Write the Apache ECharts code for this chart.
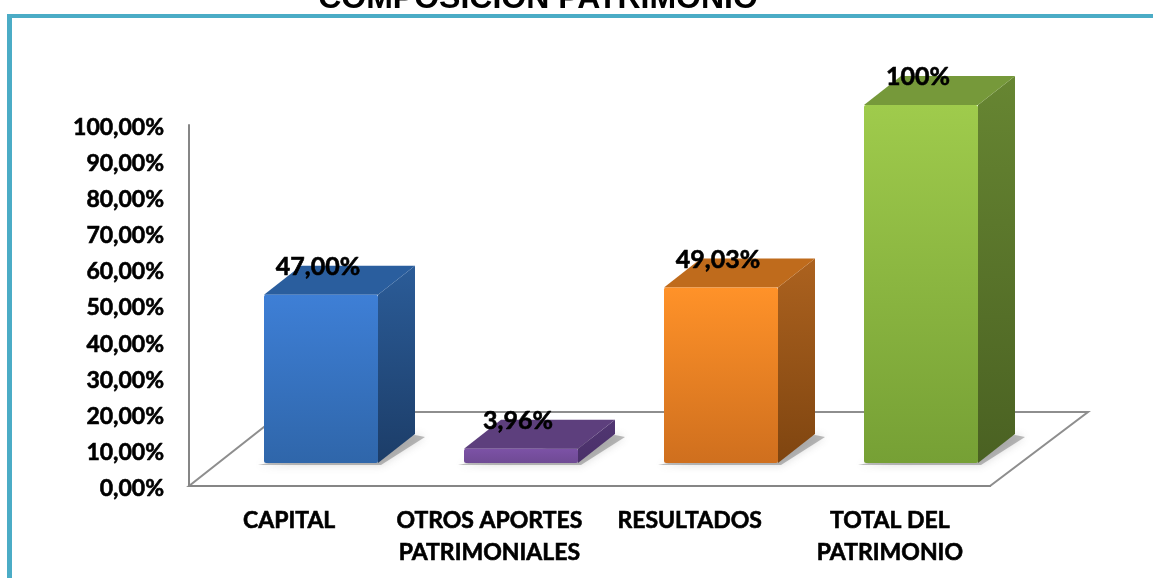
<!DOCTYPE html>
<html><head><meta charset="utf-8">
<style>html,body{margin:0;padding:0;background:#fff}#c{width:1153px;height:578px}</style>
<script src="https://cdn.jsdelivr.net/npm/echarts@6/dist/echarts.min.js"></script>
</head><body><div id="c"></div>
<script>
const categories = ['CAPITAL', 'OTROS APORTES\nPATRIMONIALES', 'RESULTADOS', 'TOTAL DEL\nPATRIMONIO'];
const values = [47.0, 3.96, 49.03, 100];
const valueLabels = ['47,00%', '3,96%', '49,03%', '100%'];
const frontTop = ['#3E7FD6', '#7C52A6', '#FF9229', '#9FCB4C'];
const frontBottom = ['#2F66AA', '#6F4A94', '#CF6F1E', '#76A035'];
const sideTop = ['#2B5C98', '#513672', '#AC621F', '#678632'];
const sideBottom = ['#1C3D68', '#4A3069', '#7F4510', '#4A6122'];
const topColor = ['#2A5E9E', '#5D3F7D', '#BF6B1C', '#76993A'];

const chart = echarts.init(document.getElementById('c'), null, {renderer: 'canvas'});
const font = 'Lato, Carlito, sans-serif';
const DX = 37, DY = 29;

function grad(a, b) {
  return new echarts.graphic.LinearGradient(0, 0, 0, 1, [{offset: 0, color: a}, {offset: 1, color: b}]);
}
function poly(points, fill, extra) {
  return Object.assign({type: 'polygon', shape: {points}, style: {fill}}, extra || {});
}

chart.setOption({
  animation: false,
  backgroundColor: '#fff',
  grid: [
    {left: 189, top: 125, width: 801, height: 361},
    {left: 221, top: 105, width: 800, height: 358}
  ],
  xAxis: [
    {type: 'category', gridIndex: 0, data: categories,
     axisTick: {show: false},
     axisLine: {lineStyle: {color: '#868686', width: 2}},
     axisLabel: {interval: 0, margin: 19, lineHeight: 32, fontFamily: font, fontWeight: 'bold', fontSize: 23, color: '#000', verticalAlign: 'top', textBorderColor: '#000', textBorderWidth: 0.6}},
    {type: 'category', gridIndex: 1, data: categories, show: false}
  ],
  yAxis: [
    {type: 'value', gridIndex: 0, min: 0, max: 100, interval: 10,
     axisLine: {show: true, lineStyle: {color: '#868686', width: 2}},
     axisTick: {show: false}, splitLine: {show: false},
     axisLabel: {margin: 25, fontFamily: font, fontWeight: 'bold', fontSize: 23, color: '#000',
       formatter: v => '{t|' + v.toFixed(2).replace('.', ',') + '%}',
       rich: {t: {fontFamily: font, fontWeight: 'bold', fontSize: 23, color: '#000', textBorderColor: '#000', textBorderWidth: 0.6, padding: [5, 0, 0, 0]}}}},
    {type: 'value', gridIndex: 1, min: 0, max: 100, interval: 10, show: false}
  ],
  graphic: [
    {type: 'polygon', z: 0, silent: true,
     shape: {points: [[189, 486], [990, 486], [1088, 412], [283, 412]]},
     style: {fill: '#fff', stroke: '#8E8E8E', lineWidth: 2}},
    {type: 'rect', z: 1, silent: true, shape: {x: 7, y: 14, width: 1146, height: 4}, style: {fill: '#4BACC6'}},
    {type: 'rect', z: 1, silent: true, shape: {x: 7, y: 14, width: 5, height: 564}, style: {fill: '#4BACC6'}},
    {type: 'text', z: 5, silent: true, x: 538, y: 15,
     style: {text: 'COMPOSICIÓN PATRIMONIO', fontFamily: 'Liberation Sans', fontWeight: 'bold', fontSize: 32, fill: '#000', textAlign: 'center', textVerticalAlign: 'bottom'}}
  ],
  series: [{
    type: 'custom',
    xAxisIndex: 1, yAxisIndex: 1,
    clip: false,
    z: 3,
    data: values.map((v, i) => [i, v]),
    renderItem(params, api) {
      const i = api.value(0);
      const top = api.coord([i, api.value(1)]);
      const base = api.coord([i, 0]);
      const w = api.size([1, 0])[0] * 0.57;
      const x0 = top[0] - w / 2, x1 = top[0] + w / 2, yT = top[1], yB = base[1];
      return {
        type: 'group',
        children: [
          {type: 'polygon', shape: {points: [[x0 - 6, yB + 2], [x1 + 3, yB + 2], [x1 + DX + 10, yB - DY + 3], [x1 + DX, yB - DY + 1]]},
           style: {fill: 'rgba(90,90,90,0.4)', shadowBlur: 9, shadowColor: 'rgba(90,90,90,0.55)'}},
          poly([[x1, yT], [x1 + DX, yT - DY], [x1 + DX, yB - DY], [x1, yB]], grad(sideTop[i], sideBottom[i])),
          poly([[x0, yT], [x0 + DX, yT - DY], [x1 + DX, yT - DY], [x1, yT]], topColor[i]),
          {type: 'rect', shape: {x: x0, y: yT, width: w, height: yB - yT, r: 2},
           style: {fill: grad(frontTop[i], frontBottom[i])}},
          {type: 'text', x: top[0] - 3, y: yT - 28, z2: 10,
           style: {text: valueLabels[i], fontFamily: font, fontWeight: 'bold', fontSize: 25, fill: '#000', stroke: '#000', lineWidth: 0.6, textAlign: 'center', textVerticalAlign: 'middle'}}
        ]
      };
    }
  }]
});
</script></body></html>
